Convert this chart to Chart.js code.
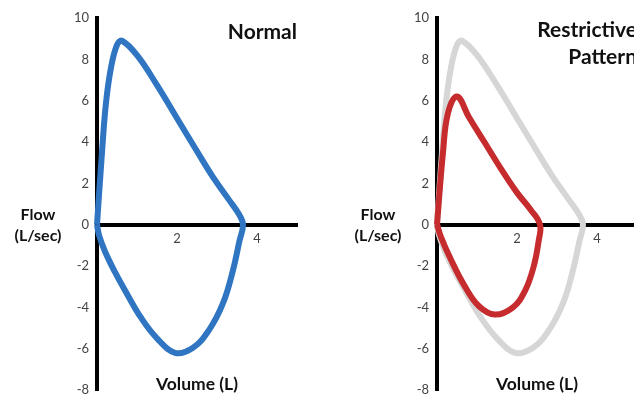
<!DOCTYPE html>
<html>
<head>
<meta charset="utf-8">
<script src="https://cdn.jsdelivr.net/npm/chart.js@4/dist/chart.umd.min.js"></script>
<style>
  body { margin: 0; background: #fff; overflow: hidden; width: 634px; height: 396px; position: relative; }
  canvas { position: absolute; top: 0; }
  #normal { left: 0; }
  #restrictive { left: 340px; }
</style>
</head>
<body>
<canvas id="normal" width="320" height="396"></canvas>
<canvas id="restrictive" width="320" height="396"></canvas>
<script>
// normal loop: expiration (top) then inspiration (bottom)
var volNormal  = [0, 0.125, 0.225, 0.35, 0.5, 0.625, 1.0, 1.5, 2.0, 2.5, 2.9, 3.3, 3.55, 3.65,
                  3.56, 3.4, 3.15, 2.8, 2.4, 1.95, 1.5, 1.1, 0.75, 0.45, 0.2, 0.05, 0];
var flowNormal = [0, 3.5, 5.9, 7.6, 8.7, 8.9, 8.2, 6.75, 5.15, 3.55, 2.3, 1.2, 0.5, 0,
                  -0.8, -2.2, -3.8, -5.1, -5.95, -6.2, -5.5, -4.5, -3.35, -2.3, -1.3, -0.5, 0];

// restrictive loop
var volRestrict  = [0, 0.15, 0.275, 0.5, 0.8, 1.2, 1.6, 2.0, 2.35, 2.575,
                    2.54, 2.42, 2.2, 1.9, 1.45, 1.05, 0.7, 0.35, 0.1, 0];
var flowRestrict = [0, 3.5, 5.4, 6.2, 5.2, 3.95, 2.7, 1.55, 0.7, 0,
                    -0.8, -2.0, -3.2, -4.0, -4.35, -3.95, -3.0, -1.7, -0.6, 0];

var xTicks = [2, 4];
var yMin = -8, yMax = 10, xMin = 0, xMax = 5;

function pts(xs, ys) {
  return xs.map(function (x, i) { return { x: x, y: ys[i] }; });
}

var LABEL_FONT = 'Lato, "Open Sans", sans-serif';

var panelText = {
  id: 'panelText',
  afterDraw: function (chart, args, opts) {
    var c = chart.ctx;
    c.save();
    c.fillStyle = '#111';
    c.font = 'bold 21px ' + LABEL_FONT;
    c.textAlign = 'right';
    c.textBaseline = 'middle';
    opts.title.forEach(function (line, i) {
      c.fillText(line, 297, opts.titleY + i * 27);
    });
    c.font = 'bold 16px ' + LABEL_FONT;
    c.textAlign = 'center';
    c.fillText('Flow', 38, 215);
    c.fillText('(L/sec)', 38, 236);
    c.font = 'bold 17.5px ' + LABEL_FONT;
    c.fillText('Volume (L)', 197, 384);
    c.restore();
  }
};

function makeChart(id, datasets, title, titleY) {
  return new Chart(document.getElementById(id), {
    type: 'scatter',
    data: { datasets: datasets },
    options: {
      responsive: false,
      animation: false,
      layout: { padding: { top: 18, right: 23, bottom: 6, left: 0 } },
      elements: { point: { radius: 0 } },
      plugins: {
        legend: { display: false },
        tooltip: { enabled: false },
        panelText: { title: title, titleY: titleY }
      },
      scales: {
        x: {
          type: 'linear',
          min: xMin,
          max: xMax,
          position: { y: 0 },
          afterFit: function (s) { s.paddingLeft = 0; s.paddingRight = 0; },
          grid: { display: false, drawTicks: false },
          border: { display: true, color: '#000', width: 4 },
          afterBuildTicks: function (s) { s.ticks = xTicks.map(function (v) { return { value: v }; }); },
          ticks: { color: '#444', padding: 6, font: { family: LABEL_FONT, size: 13 } }
        },
        y: {
          type: 'linear',
          min: yMin,
          max: yMax,
          position: 'left',
          afterFit: function (s) { s.width = 97; s.paddingTop = 0; s.paddingBottom = 0; },
          grid: { display: false, drawTicks: false },
          border: { display: true, color: '#000', width: 4 },
          ticks: { stepSize: 2, color: '#444', padding: 8, font: { family: LABEL_FONT, size: 13, lineHeight: 1 } }
        }
      }
    },
    plugins: [panelText]
  });
}

makeChart('normal', [{
  data: pts(volNormal, flowNormal),
  showLine: true,
  borderColor: '#2f75c2',
  borderWidth: 6,
  tension: 0.4,
  clip: false
}], ['Normal'], 32);

makeChart('restrictive', [{
  data: pts(volRestrict, flowRestrict),
  showLine: true,
  borderColor: '#c62b2e',
  borderWidth: 6,
  tension: 0.4,
  clip: false
}, {
  data: pts(volNormal, flowNormal),
  showLine: true,
  borderColor: '#d6d6d6',
  borderWidth: 6,
  tension: 0.4,
  clip: false
}], ['Restrictive', 'Pattern'], 30.5);
</script>
</body>
</html>
